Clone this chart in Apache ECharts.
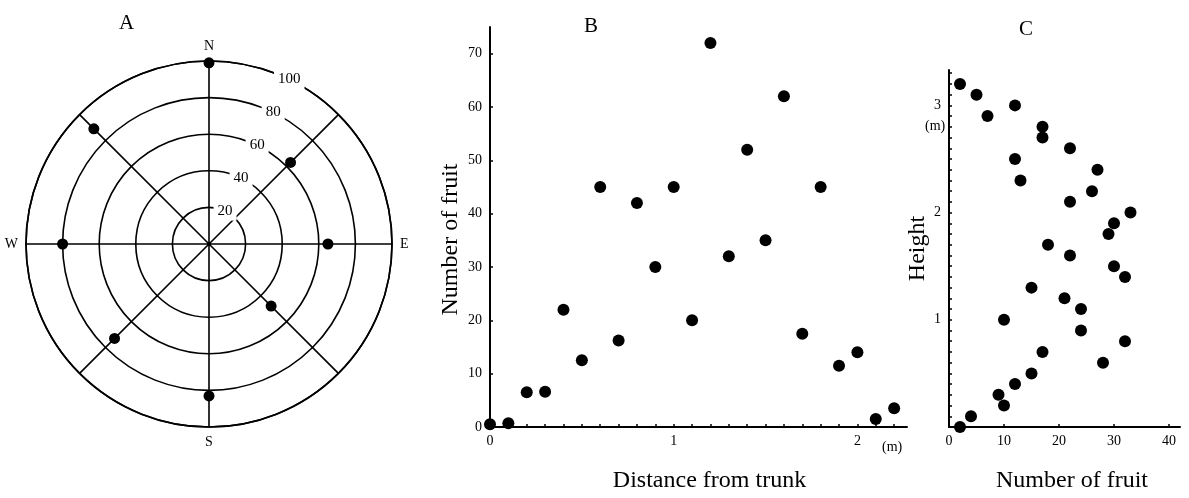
<!DOCTYPE html>
<html>
<head>
<meta charset="utf-8">
<script src="https://cdn.jsdelivr.net/npm/echarts@6/dist/echarts.min.js"></script>
<style>
  html, body { margin: 0; padding: 0; background: #fff; }
  #main { width: 1189px; height: 498px; }
</style>
</head>
<body>
<div id="main"></div>
<script>
// A: fruit count by compass direction (bearing in degrees)
const compassDirs = ['N', 'NE', 'E', 'SE', 'S', 'SW', 'W', 'NW'];
const compassBearings = [0, 45, 90, 135, 180, 225, 270, 315];
const fruitByDirection = [99, 63, 65, 48, 83, 73, 80, 89];

// B: distance from trunk (m) / number of fruit
const distanceFromTrunk = [0, 0.1, 0.2, 0.3, 0.4, 0.5, 0.6, 0.7, 0.8, 0.9, 1.0, 1.1,
  1.2, 1.3, 1.4, 1.5, 1.6, 1.7, 1.8, 1.9, 2.0, 2.1, 2.2];
const fruitByDistance = [0.5, 0.7, 6.5, 6.6, 22, 12.5, 45, 16.2, 42, 30, 45, 20,
  72, 32, 52, 35, 62, 17.5, 45, 11.5, 14, 1.5, 3.5];

// C: height (m) / number of fruit
const heightLevels = [3.2, 3.1, 2.9, 3.0, 2.8, 2.7, 2.6, 2.5, 2.3, 2.4, 2.2, 2.1, 2.0,
  1.9, 1.8, 1.7, 1.6, 1.5, 1.4, 1.3, 1.2, 1.1, 1.0, 0.9, 0.8, 0.7, 0.6, 0.5, 0.4,
  0.3, 0.2, 0.1, 0.0];
const fruitByHeight = [2, 5, 7, 12, 17, 17, 22, 12, 13, 27, 26, 22, 33,
  30, 29, 18, 22, 30, 32, 15, 21, 24, 10, 24, 32, 17, 28, 15, 12,
  9, 10, 4, 2];

const ringTicks = [20, 40, 60, 80, 100];

const FONT = '"Liberation Serif", "DejaVu Serif", serif';
const black = '#000';

let chart = echarts.init(document.getElementById('main'));

function isWhole(v) {
  return Math.abs(v - Math.round(v)) < 1e-6;
}

let option = {
  backgroundColor: '#fff',
  animation: false,
  textStyle: { fontFamily: FONT, color: black },
  title: [
    { text: 'A', left: 114, top: 8, textStyle: { fontFamily: FONT, fontSize: 21, fontWeight: 'normal', color: black } },
    { text: 'B', left: 579, top: 11, textStyle: { fontFamily: FONT, fontSize: 21, fontWeight: 'normal', color: black } },
    { text: 'C', left: 1014, top: 14, textStyle: { fontFamily: FONT, fontSize: 21, fontWeight: 'normal', color: black } }
  ],
  polar: [
    { center: [209, 244], radius: 183 },
    { center: [209, 244], radius: 183 }
  ],
  angleAxis: [
    {
      polarIndex: 0,
      type: 'value',
      min: 0,
      max: 360,
      interval: 45,
      startAngle: 90,
      clockwise: true,
      axisLine: { show: true, lineStyle: { color: black, width: 1.6 } },
      axisTick: { show: false },
      axisLabel: {
        margin: 8,
        fontSize: 14,
        color: black,
        fontFamily: FONT,
        formatter: function (v) {
          let i = compassBearings.indexOf(v);
          if (i < 0 || v === 360) return '';
          return compassDirs[i].length === 1 ? compassDirs[i] : '';
        }
      },
      splitLine: { show: true, lineStyle: { color: black, width: 1.6 } },
      z: 2
    },
    {
      // only used to turn the ring labels to the north-north-east
      polarIndex: 1,
      type: 'value',
      startAngle: 64,
      show: false
    }
  ],
  radiusAxis: [
    {
      polarIndex: 0,
      min: 0,
      max: 100,
      interval: 20,
      axisLine: { show: false },
      axisTick: { show: false },
      axisLabel: { show: false },
      splitLine: { show: true, lineStyle: { color: black, width: 1.6 } },
      z: 2
    },
    {
      polarIndex: 1,
      min: 0,
      max: 100,
      interval: 20,
      axisLine: { show: false },
      axisTick: { show: false },
      splitLine: { show: false },
      axisLabel: {
        margin: 0,
        align: 'center',
        verticalAlign: 'middle',
        rotate: 0,
        fontSize: 15,
        color: black,
        fontFamily: FONT,
        backgroundColor: '#fff',
        padding: [2, 4],
        showMinLabel: false,
        formatter: function (v) {
          return ringTicks.indexOf(v) >= 0 ? String(v) : '';
        }
      },
      z: 5
    }
  ],
  grid: [
    { left: 490, top: 27, width: 417, height: 401 },
    { left: 949, top: 70, width: 231, height: 362 }
  ],
  xAxis: [
    {
      gridIndex: 0,
      type: 'value',
      min: 0,
      max: 2.27,
      interval: 0.1,
      name: 'Distance from trunk',
      nameLocation: 'middle',
      nameGap: 42,
      nameTextStyle: { fontFamily: FONT, fontSize: 24, color: black, padding: [0, 0, 0, 22] },
      axisLine: { show: true, lineStyle: { color: black, width: 2 } },
      axisTick: { show: true, inside: true, length: 3, lineStyle: { color: black, width: 1.5 } },
      axisLabel: {
        margin: 7,
        interval: 0,
        fontSize: 14,
        color: black,
        fontFamily: FONT,
        showMaxLabel: false,
        formatter: function (v) {
          return isWhole(v) ? String(Math.round(v)) : '';
        }
      },
      splitLine: { show: false }
    },
    {
      gridIndex: 1,
      type: 'value',
      min: 0,
      max: 42,
      interval: 10,
      name: 'Number of fruit',
      nameLocation: 'middle',
      nameGap: 42,
      nameTextStyle: { fontFamily: FONT, fontSize: 24, color: black, padding: [0, 0, 0, 15] },
      axisLine: { show: true, lineStyle: { color: black, width: 2 } },
      axisTick: { show: true, inside: true, length: 3, lineStyle: { color: black, width: 1.5 } },
      axisLabel: {
        margin: 7,
        fontSize: 14,
        color: black,
        fontFamily: FONT,
        showMaxLabel: false
      },
      splitLine: { show: false }
    }
  ],
  yAxis: [
    {
      gridIndex: 0,
      type: 'value',
      min: 0,
      max: 75,
      interval: 10,
      name: 'Number of fruit',
      nameLocation: 'middle',
      nameGap: 27,
      nameTextStyle: { fontFamily: FONT, fontSize: 24, color: black, padding: [0, 25, 0, 0] },
      axisLine: { show: true, lineStyle: { color: black, width: 2 } },
      axisTick: { show: true, inside: true, length: 3, lineStyle: { color: black, width: 1.5 } },
      axisLabel: { margin: 8, fontSize: 14, color: black, fontFamily: FONT, showMaxLabel: false },
      splitLine: { show: false }
    },
    {
      gridIndex: 1,
      type: 'value',
      min: 0,
      max: 3.33,
      interval: 0.1,
      name: 'Height',
      nameLocation: 'middle',
      nameGap: 19,
      nameTextStyle: { fontFamily: FONT, fontSize: 24, color: black },
      axisLine: { show: true, lineStyle: { color: black, width: 2 } },
      axisTick: { show: true, inside: true, length: 3, lineStyle: { color: black, width: 1.5 } },
      axisLabel: {
        margin: 8,
        interval: 0,
        fontSize: 14,
        color: black,
        fontFamily: FONT,
        showMaxLabel: false,
        formatter: function (v) {
          return (isWhole(v) && Math.round(v) > 0) ? String(Math.round(v)) : '';
        }
      },
      splitLine: { show: false }
    }
  ],
  graphic: [
    { type: 'text', left: 882, top: 440, style: { text: '(m)', font: '14px ' + FONT, fill: black } },
    { type: 'text', left: 925, top: 119, style: { text: '(m)', font: '14px ' + FONT, fill: black } }
  ],
  series: [
    {
      type: 'scatter',
      coordinateSystem: 'polar',
      polarIndex: 0,
      symbolSize: 11,
      itemStyle: { color: black, opacity: 1 },
      data: compassBearings.map((b, i) => [fruitByDirection[i], b]),
      z: 10
    },
    {
      type: 'scatter',
      xAxisIndex: 0,
      yAxisIndex: 0,
      symbolSize: 12,
      itemStyle: { color: black, opacity: 1 },
      data: distanceFromTrunk.map((d, i) => [d, fruitByDistance[i]]),
      z: 10
    },
    {
      type: 'scatter',
      xAxisIndex: 1,
      yAxisIndex: 1,
      symbolSize: 12,
      itemStyle: { color: black, opacity: 1 },
      data: heightLevels.map((h, i) => [fruitByHeight[i], h]),
      z: 10
    }
  ]
};

chart.setOption(option);
window.onresize = chart.resize;
</script>
</body>
</html>
